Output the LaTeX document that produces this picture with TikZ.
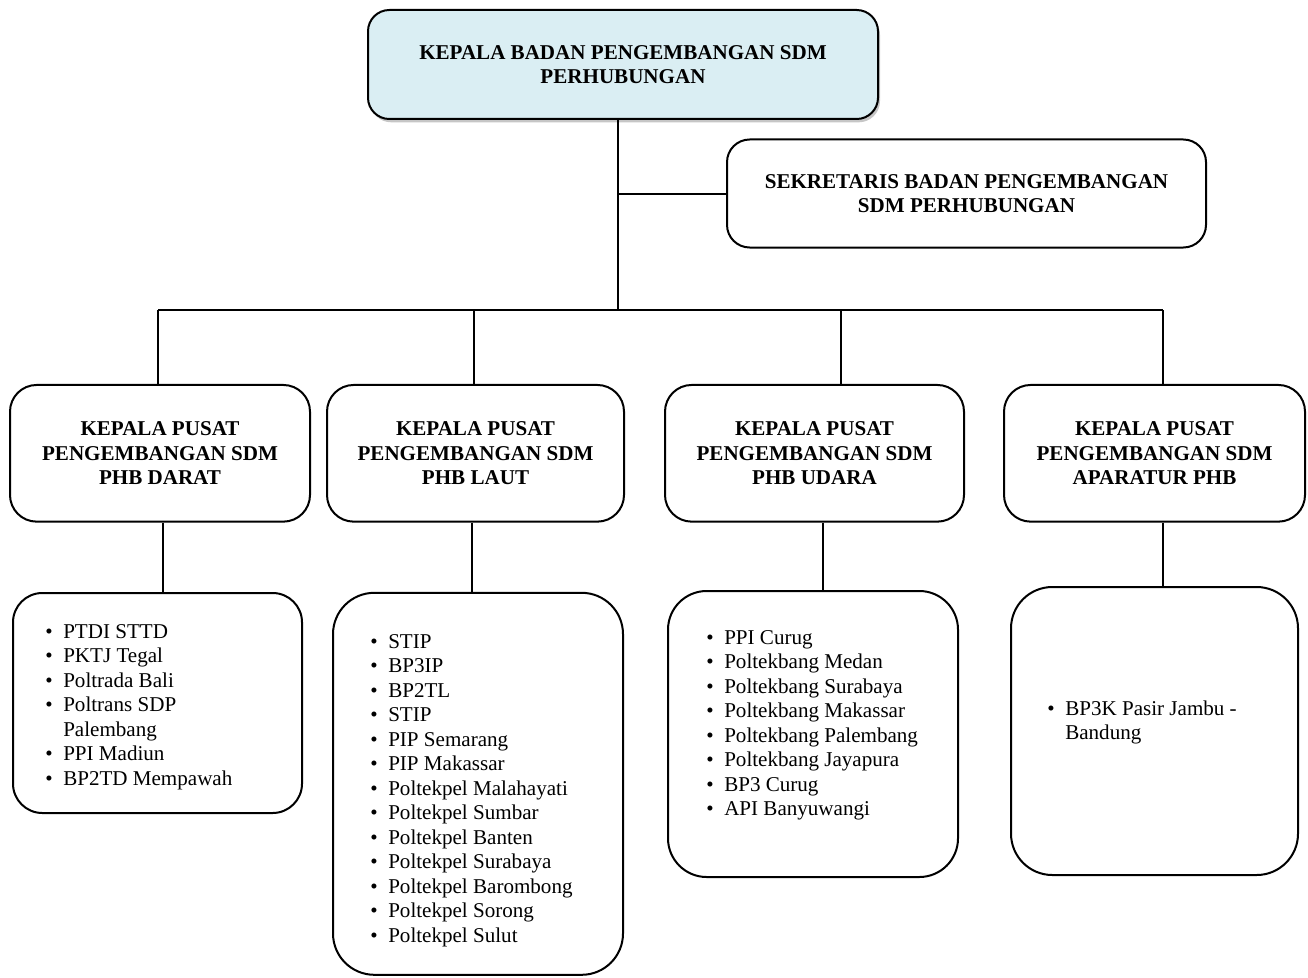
\documentclass[tikz,border=0pt]{standalone}
\usepackage{fontspec}
\setmainfont{Liberation Serif}
\usetikzlibrary{shadows}
\definecolor{topfill}{RGB}{218,238,243}
\newcommand{\itm}[1]{\makebox[13.5pt][l]{•}#1}
\newcommand{\cont}[1]{\hspace*{13.5pt}#1}
\begin{document}
\begin{tikzpicture}[x=0.75pt,y=-0.75pt,
  box/.style={draw=black, line width=1.5pt, rounded corners=#1, inner sep=0pt,
    align=center, font=\fontsize{15.8}{18.4}\selectfont\bfseries},
  box/.default=20pt,
  list/.style={anchor=base west, inner sep=0pt, font=\fontsize{15.8}{18.4}\selectfont},
  conn/.style={draw=black, line width=1.5pt}
]
\useasboundingbox (0,0) rectangle (1308,977);

% coordinates for connectors
\coordinate (bus) at (618,310);
\coordinate (b1) at (158,310);
\coordinate (b2) at (474,310);
\coordinate (b3) at (841,310);
\coordinate (b4) at (1163,310);
\coordinate (d1) at (163,521);
\coordinate (d2) at (472,521);
\coordinate (d3) at (823,521);
\coordinate (d4) at (1163,521);

% boxes
\node[box=16pt, fill=topfill, drop shadow={shadow xshift=1.5pt, shadow yshift=-2.5pt, opacity=0.45},
  minimum width=382.5pt, minimum height=81.75pt] (top) at (623,64.5)
  {KEPALA BADAN PENGEMBANGAN SDM\\PERHUBUNGAN};
\node[box=17pt, fill=white, minimum width=359.25pt, minimum height=81pt] (sek) at (966.5,193.5)
  {SEKRETARIS BADAN PENGEMBANGAN\\SDM PERHUBUNGAN};

\node[box=20pt, minimum width=225pt, minimum height=102.5pt] (k1) at (160,453.3)
  {KEPALA PUSAT\\PENGEMBANGAN SDM\\PHB DARAT};
\node[box=20pt, minimum width=222.75pt, minimum height=102.5pt] (k2) at (475.5,453.3)
  {KEPALA PUSAT\\PENGEMBANGAN SDM\\PHB LAUT};
\node[box=20pt, minimum width=224.25pt, minimum height=102.5pt] (k3) at (814.5,453.3)
  {KEPALA PUSAT\\PENGEMBANGAN SDM\\PHB UDARA};
\node[box=20pt, minimum width=225.75pt, minimum height=102.5pt] (k4) at (1154.5,453.3)
  {KEPALA PUSAT\\PENGEMBANGAN SDM\\APARATUR PHB};

\node[box=22pt, minimum width=216.75pt, minimum height=165pt] (l1) at (157.5,703) {};
\node[box=31pt, minimum width=217.5pt, minimum height=286.5pt] (l2) at (478,783.8) {};
\node[box=29pt, minimum width=217.5pt, minimum height=214.5pt] (l3) at (813,734) {};
\node[box=31pt, minimum width=215.25pt, minimum height=216pt] (l4) at (1154.5,731) {};

% connectors
\draw[conn] (top.south -| bus) -- (bus);
\draw[conn] (sek.west) -- (sek.west -| bus);
\draw[conn] (b1) -- (b4);
\draw[conn] (b1) -- (b1 |- k1.north);
\draw[conn] (b2) -- (b2 |- k2.north);
\draw[conn] (b3) -- (b3 |- k3.north);
\draw[conn] (b4) -- (b4 |- k4.north);
\draw[conn] (d1 |- k1.south) -- (d1 |- l1.north);
\draw[conn] (d2 |- k2.south) -- (d2 |- l2.north);
\draw[conn] (d3 |- k3.south) -- (d3 |- l3.north);
\draw[conn] (d4 |- k4.south) -- (d4 |- l4.north);

% lists
\node[list] (t1) at (45,638) {\begin{tabular}[t]{@{}l@{}}
\itm{PTDI STTD}\\
\itm{PKTJ Tegal}\\
\itm{Poltrada Bali}\\
\itm{Poltrans SDP}\\
\cont{Palembang}\\
\itm{PPI Madiun}\\
\itm{BP2TD Mempawah}
\end{tabular}};

\node[list] (t2) at (370,648) {\begin{tabular}[t]{@{}l@{}}
\itm{STIP}\\
\itm{BP3IP}\\
\itm{BP2TL}\\
\itm{STIP}\\
\itm{PIP Semarang}\\
\itm{PIP Makassar}\\
\itm{Poltekpel Malahayati}\\
\itm{Poltekpel Sumbar}\\
\itm{Poltekpel Banten}\\
\itm{Poltekpel Surabaya}\\
\itm{Poltekpel Barombong}\\
\itm{Poltekpel Sorong}\\
\itm{Poltekpel Sulut}
\end{tabular}};

\node[list] (t3) at (706,644) {\begin{tabular}[t]{@{}l@{}}
\itm{PPI Curug}\\
\itm{Poltekbang Medan}\\
\itm{Poltekbang Surabaya}\\
\itm{Poltekbang Makassar}\\
\itm{Poltekbang Palembang}\\
\itm{Poltekbang Jayapura}\\
\itm{BP3 Curug}\\
\itm{API Banyuwangi}
\end{tabular}};

\node[list] (t4) at (1047,715) {\begin{tabular}[t]{@{}l@{}}
\itm{BP3K Pasir Jambu -}\\
\cont{Bandung}
\end{tabular}};
\end{tikzpicture}
\end{document}
